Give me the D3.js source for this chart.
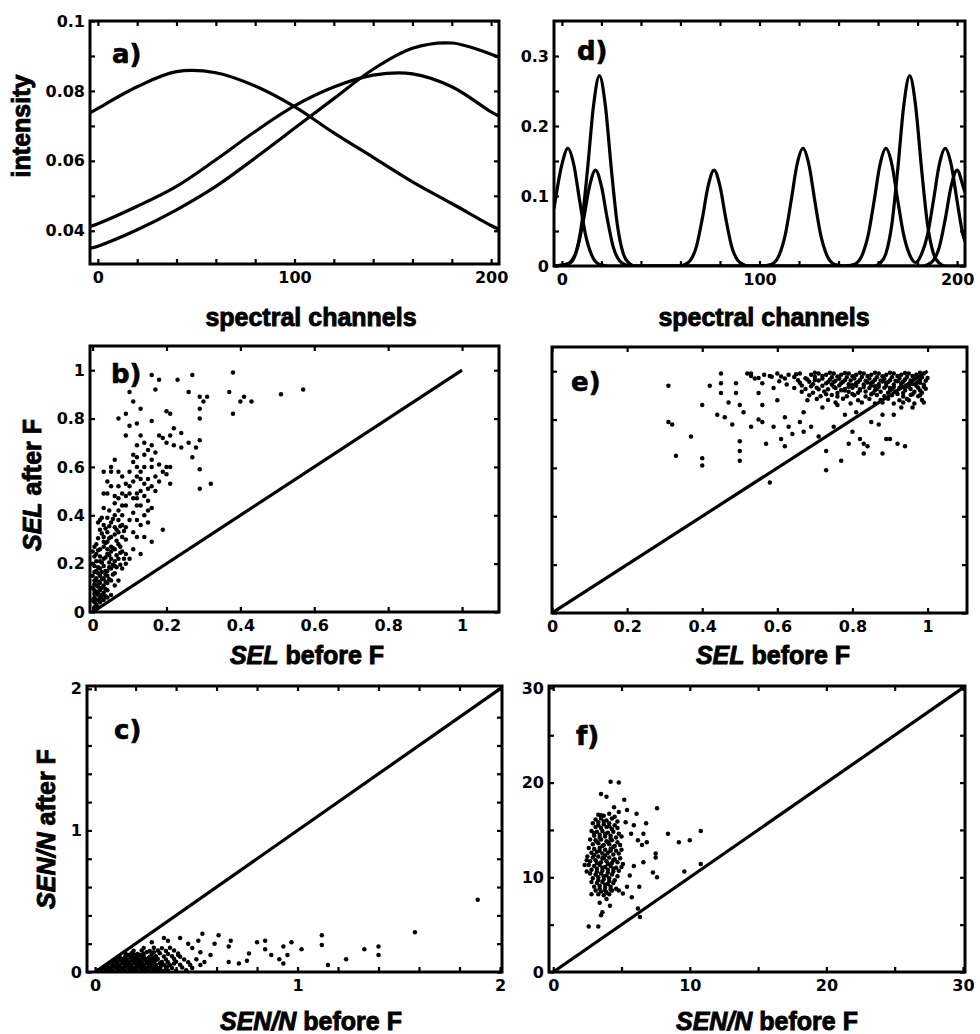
<!DOCTYPE html>
<html><head><meta charset="utf-8">
<script src="https://cdn.jsdelivr.net/npm/d3@7"></script>
<style>
html,body{margin:0;padding:0;background:#fff;}
svg{display:block;}
text{font-weight:bold;fill:#000;}
</style></head><body>
<svg id="fig" width="980" height="1034"></svg>
<script>
// ---------- tick values and labels ----------
const channelTicks = [0,20,40,60,80,100,120,140,160,180,200];
const channelLabels = [0,100,200];
const intensityTicks = [0.04,0.05,0.06,0.07,0.08,0.09,0.1];
const intensityLabels = [0.04,0.06,0.08,0.1];
const peakTicks = [0,0.05,0.1,0.15,0.2,0.25,0.3];
const peakLabels = [0,0.1,0.2,0.3];
const selTicks = [0,0.2,0.4,0.6,0.8,1];
const selLabels = [0,0.2,0.4,0.6,0.8,1];
const senTicksC = [0,0.2,0.4,0.6,0.8,1,1.2,1.4,1.6,1.8,2];
const senLabelsC = [0,1,2];
const senTicksF = [0,5,10,15,20,25,30];
const senLabelsF = [0,10,20,30];

// ---------- a) broad pure spectra ----------
const channelsBroad = [-4,0,20,40,60,80,100,120,140,160,180,200,204];
const broadSpectrum1 = [0.0737,0.0750,0.0812,0.0855,0.0852,0.0814,0.0755,0.0680,0.0610,0.0540,0.0478,0.0415,0.0404];
const broadSpectrum2 = [0.0412,0.0420,0.0470,0.0527,0.0603,0.0684,0.0757,0.0811,0.0845,0.0849,0.0812,0.0740,0.0728];
const broadSpectrum3 = [0.0350,0.0356,0.0403,0.0460,0.0527,0.0608,0.0693,0.0778,0.0862,0.0922,0.0937,0.0905,0.0896];

// ---------- d) narrow pure spectra [channel, intensity] ----------
const narrowSpectrum1 = [[-4,0.082],[0,0.145],[3,0.168],[6,0.145],[9,0.093],[12,0.044],[15,0.016],[18,0.004],[21,0.001],[24,0],
 [101,0],[104,0.001],[107,0.004],[110,0.016],[113,0.044],[116,0.093],[119,0.145],[122,0.168],[125,0.145],[128,0.093],[131,0.044],[134,0.016],[137,0.004],[140,0.001],[143,0],
 [146,0.001],[149,0.004],[152,0.016],[155,0.044],[158,0.093],[161,0.145],[164,0.168],[167,0.145],[170,0.093],[173,0.044],[176,0.016],[179,0.005],
 [182,0.017],[185,0.044],[188,0.093],[191,0.145],[194,0.168],[197,0.145],[200,0.093],[203,0.044],[204,0.035]];
const narrowSpectrum2 = [[-4,0],[2,0.002],[5,0.008],[8,0.027],[11,0.067],[14,0.114],[17,0.137],[20,0.114],[23,0.067],[26,0.027],[29,0.008],[32,0.002],[35,0],
 [59,0],[62,0.002],[65,0.008],[68,0.027],[71,0.067],[74,0.114],[77,0.137],[80,0.114],[83,0.067],[86,0.027],[89,0.008],[92,0.002],[95,0],
 [182,0],[185,0.002],[188,0.008],[191,0.027],[194,0.067],[197,0.114],[200,0.137],[203,0.114],[204,0.105]];
const narrowSpectrum3 = [[-4,0],[4,0.004],[7,0.018],[10,0.06],[13,0.139],[16,0.229],[19,0.272],[22,0.229],[25,0.139],[28,0.06],[31,0.018],[34,0.004],[37,0],
 [158,0],[161,0.004],[164,0.018],[167,0.06],[170,0.139],[173,0.229],[176,0.272],[179,0.229],[182,0.139],[185,0.06],[188,0.018],[191,0.004],[194,0],[204,0]];

// ---------- b) selectivity, broad spectra [before, after] ----------
const selPointsB = [
[0.16,0.98],[0.18,0.96],[0.17,0.92],[0.23,0.96],[0.27,0.98],[0.38,0.99],[0.26,0.91],[0.29,0.89],[0.31,0.89],[0.30,0.87],[0.37,0.91],[0.40,0.87],[0.41,0.89],[0.43,0.87],[0.51,0.90],[0.57,0.92],[0.38,0.82],[0.29,0.80],[0.29,0.84],[0.10,0.91],[0.11,0.87],[0.13,0.84],[0.07,0.80],[0.09,0.82],[0.12,0.78],[0.16,0.79],[0.20,0.83],[0.21,0.82],[0.22,0.76],[0.24,0.74],[0.18,0.73],[0.19,0.72],[0.21,0.73],[0.20,0.70],[0.22,0.69],[0.24,0.68],[0.26,0.70],[0.28,0.68],[0.29,0.71],[0.27,0.64],[0.29,0.59],[0.29,0.51],[0.32,0.53],[0.19,0.34],[0.16,0.29],[0.13,0.24],[0.11,0.26],[0.10,0.22],[0.14,0.31],[0.15,0.37],[0.16,0.63],[0.16,0.60],[0.17,0.56],[0.20,0.60],[0.20,0.57],[0.21,0.60],[0.21,0.53],[0.14,0.60],[0.13,0.55],[0.15,0.51],[0.15,0.46],[0.13,0.44],[0.16,0.43],[0.12,0.49],[0.12,0.56],[0.11,0.65],[0.12,0.69],[0.13,0.73],[0.14,0.70],[0.09,0.73],[0.10,0.77],[0.16,0.69],[0.17,0.66],[0.06,0.63],[0.05,0.60],[0.05,0.58],[0.07,0.58],[0.08,0.56],[0.09,0.53],[0.08,0.49],[0.07,0.47],[0.09,0.44],[0.11,0.41],[0.12,0.38],[0.12,0.44],[0.03,0.58],[0.03,0.49],[0.04,0.49],[0.06,0.45],[0.07,0.42],[0.09,0.48],[0.10,0.49],[0.11,0.47],
[0.11,0.62],[0.12,0.64],[0.12,0.60],[0.13,0.58],[0.14,0.65],[0.15,0.67],[0.14,0.53],[0.15,0.55],[0.16,0.52],[0.17,0.50],[0.13,0.50],[0.11,0.54],[0.10,0.58],[0.10,0.52],[0.12,0.47],[0.14,0.48],[0.15,0.42],[0.14,0.40],[0.13,0.36],[0.11,0.33],[0.12,0.31],[0.09,0.35],[0.10,0.38],[0.08,0.40],[0.18,0.61],[0.19,0.58],[0.18,0.54],
[0.02,0.38],[0.03,0.36],[0.04,0.39],[0.05,0.37],[0.06,0.35],[0.07,0.38],[0.04,0.33],[0.05,0.31],[0.06,0.32],[0.07,0.33],[0.08,0.31],[0.03,0.31],[0.02,0.34],[0.06,0.40],[0.09,0.30],[0.08,0.36],
[0.01,0.28],[0.02,0.26],[0.03,0.27],[0.04,0.29],[0.05,0.27],[0.06,0.26],[0.07,0.28],[0.02,0.23],[0.03,0.22],[0.04,0.24],[0.05,0.22],[0.06,0.21],[0.03,0.29],[0.01,0.24],[0.02,0.21],[0.04,0.26],[0.08,0.25],[0.07,0.22],[0.05,0.25],[0.01,0.21],
[0.005,0.19],[0.01,0.17],[0.02,0.18],[0.03,0.19],[0.04,0.17],[0.05,0.18],[0.01,0.14],[0.02,0.15],[0.03,0.14],[0.04,0.15],[0.05,0.13],[0.02,0.12],[0.03,0.11],[0.01,0.11],[0.04,0.12],[0.06,0.16],[0.06,0.19],[0.015,0.16],[0.025,0.165],[0.035,0.17],[0.005,0.13],[0.015,0.125],
[0.005,0.09],[0.01,0.08],[0.02,0.09],[0.03,0.08],[0.005,0.06],[0.01,0.05],[0.02,0.06],[0.01,0.03],[0.005,0.02],[0.02,0.04],[0.03,0.05],[0.015,0.07],[0.025,0.07],[0.04,0.09],[0.005,0.04],[0.015,0.02],[0.04,0.06],[0.025,0.10],
[0,0.15],[0,0.2],[0,0.1],[0,0.05],[0,0.25],[0.07,0.13],[0.08,0.18],[0.09,0.20],[0.06,0.11],[0.05,0.07],[0.09,0.24],[0.02,0.05],
[0.015,0.37],[0.035,0.345],[0.055,0.385],[0.075,0.355],[0.025,0.325],[0.045,0.305],[0.065,0.295],[0.085,0.335],[0.015,0.305],[0.035,0.285],[0.055,0.265],[0.075,0.245],[0.015,0.255],[0.045,0.235],[0.065,0.235],[0.025,0.205],[0.045,0.205],[0.035,0.225],[0.055,0.195],[0.015,0.185],[0.035,0.155],[0.045,0.185],[0.025,0.135],[0.045,0.135],[0.015,0.105],[0.035,0.095],[0.035,0.125],[0.005,0.115],[0.015,0.085],[0.025,0.055],[0.005,0.075],[0.035,0.065],[0.005,0.165],[0.005,0.23],[0.005,0.27],[0.055,0.155],[0.065,0.185],[0.075,0.195],[0.085,0.22],[0.075,0.27],[0.065,0.34],[0.045,0.355],[0.025,0.39],[0.045,0.42],[0.03,0.43],[0.06,0.48],[0.05,0.52],[0.07,0.52],[0.04,0.54],[0.08,0.44]
];

// ---------- e) selectivity, narrow spectra ----------
const selPointsE = [
[0.31,0.94],[0.31,0.79],[0.32,0.78],[0.33,0.65],[0.37,0.73],[0.40,0.86],[0.40,0.64],[0.40,0.61],[0.42,0.94],[0.45,0.91],[0.45,0.99],[0.45,0.95],[0.47,0.87],[0.49,0.95],[0.49,0.91],[0.50,0.86],[0.51,0.83],[0.48,0.78],[0.44,0.82],[0.46,0.81],[0.50,0.71],[0.50,0.67],[0.50,0.63],[0.53,0.77],[0.55,0.80],[0.56,0.79],[0.57,0.70],[0.58,0.54],[0.59,0.77],[0.56,0.86],[0.55,0.91],[0.53,0.98],[0.52,0.99],[0.54,0.97],[0.56,0.95],[0.58,0.98],[0.59,0.93],[0.60,0.88],[0.62,0.81],[0.61,0.72],[0.62,0.69],[0.63,0.77],[0.64,0.74],[0.66,0.79],[0.67,0.75],[0.69,0.77],[0.71,0.73],[0.73,0.67],[0.73,0.59],[0.77,0.63],[0.79,0.70],[0.82,0.72],[0.83,0.70],[0.84,0.69],[0.83,0.66],[0.88,0.66],[0.89,0.72],[0.90,0.72],[0.92,0.70],[0.94,0.69],[0.80,0.75],[0.87,0.78],[0.85,0.79],[0.88,0.82],[0.91,0.82],[0.93,0.85],[0.96,0.85],[0.99,0.87],[0.98,0.90],[0.95,0.88],[0.75,0.77],[0.67,0.83],[0.68,0.88],[0.72,0.85],[0.76,0.86],[0.78,0.82],[0.81,0.83],
[0.53,0.99],[0.565,0.985],[0.60,0.99],[0.63,0.985],[0.66,0.99],[0.69,0.985],[0.71,0.99],[0.73,0.985],[0.75,0.99],[0.77,0.985],[0.79,0.99],[0.81,0.985],[0.83,0.99],[0.85,0.985],[0.87,0.99],[0.89,0.985],[0.91,0.99],[0.93,0.985],[0.95,0.99],[0.97,0.985],[0.99,0.99],
[0.55,0.972],[0.585,0.977],[0.62,0.970],[0.645,0.976],[0.675,0.971],[0.70,0.976],[0.72,0.970],[0.745,0.975],[0.765,0.969],[0.785,0.975],[0.805,0.970],[0.825,0.976],[0.845,0.970],[0.865,0.975],[0.885,0.969],[0.905,0.975],[0.925,0.970],[0.945,0.976],[0.965,0.970],[0.985,0.975],[1.0,0.972],
[0.605,0.958],[0.655,0.962],[0.685,0.956],[0.71,0.961],[0.735,0.955],[0.755,0.960],[0.775,0.956],[0.795,0.961],[0.815,0.955],[0.835,0.960],[0.855,0.956],[0.875,0.961],[0.895,0.955],[0.915,0.960],[0.935,0.956],[0.955,0.961],[0.975,0.955],[0.995,0.960],
[0.625,0.945],[0.665,0.941],[0.695,0.946],[0.72,0.940],[0.745,0.945],[0.765,0.941],[0.79,0.946],[0.81,0.940],[0.83,0.945],[0.85,0.941],[0.87,0.946],[0.89,0.940],[0.91,0.945],[0.93,0.941],[0.95,0.946],[0.97,0.940],[0.99,0.944],
[0.645,0.930],[0.675,0.926],[0.705,0.931],[0.735,0.925],[0.755,0.930],[0.78,0.926],[0.80,0.931],[0.82,0.925],[0.845,0.930],[0.865,0.926],[0.885,0.931],[0.905,0.925],[0.925,0.930],[0.955,0.926],[0.975,0.931],[0.995,0.927],
[0.665,0.915],[0.695,0.911],[0.725,0.916],[0.76,0.910],[0.79,0.915],[0.815,0.911],[0.835,0.916],[0.855,0.910],[0.875,0.915],[0.895,0.911],[0.915,0.916],[0.935,0.910],[0.965,0.915],[0.985,0.911],
[0.685,0.900],[0.715,0.896],[0.745,0.901],[0.785,0.896],[0.805,0.900],[0.835,0.895],[0.865,0.901],[0.885,0.896],[0.905,0.900],[0.935,0.895],[0.955,0.901],[0.975,0.896],
[0.705,0.885],[0.735,0.881],[0.775,0.886],[0.815,0.880],[0.845,0.885],[0.875,0.881],[0.895,0.886],[0.925,0.880],[0.945,0.885],[0.985,0.881],
[0.755,0.870],[0.795,0.866],[0.825,0.871],[0.86,0.866],[0.88,0.870],[0.91,0.866],[0.935,0.871],[0.965,0.866],
[0.72,0.98],[0.74,0.965],[0.76,0.978],[0.78,0.962],[0.80,0.979],[0.82,0.964],[0.84,0.98],[0.86,0.965],[0.88,0.979],[0.90,0.963],[0.92,0.98],[0.94,0.966],[0.96,0.98],[0.98,0.965],
[0.73,0.95],[0.75,0.936],[0.77,0.95],[0.79,0.936],[0.81,0.951],[0.83,0.935],[0.85,0.95],[0.87,0.936],[0.89,0.951],[0.91,0.935],[0.93,0.95],[0.95,0.936],[0.97,0.95],[0.99,0.936],
[0.78,0.92],[0.82,0.92],[0.86,0.921],[0.90,0.92],[0.94,0.921],[0.98,0.92],[0.80,0.906],[0.85,0.905],[0.92,0.906],[0.96,0.905],
[0.70,0.993],[0.74,0.994],[0.78,0.992],[0.82,0.994],[0.86,0.993],[0.90,0.994],[0.94,0.992],[0.98,0.994],
[0.61,0.978],[0.65,0.987],[0.68,0.966],[0.66,0.952],[0.70,0.962],[0.69,0.938],[0.71,0.925],[0.73,0.905],[0.76,0.895],[0.77,0.921],
[0.88,0.957],[0.92,0.958],[0.96,0.947],[0.84,0.953],[0.80,0.943],[0.86,0.938],[0.90,0.93],[0.94,0.935],[0.98,0.952],[0.75,0.955]
];

// ---------- c) signal-to-noise, broad spectra ----------
const senPointsC = [
[1.89,0.51],[1.58,0.28],[1.40,0.18],[1.40,0.12],[1.33,0.16],[1.24,0.09],[1.15,0.05],[1.12,0.26],[1.12,0.19],[1.02,0.16],[0.97,0.21],[0.93,0.18],[0.95,0.12],[0.93,0.06],[0.91,0.09],[0.87,0.12],[0.84,0.22],[0.84,0.16],[0.80,0.21],[0.76,0.13],[0.75,0.08],[0.71,0.06],[0.66,0.07],[0.67,0.22],[0.66,0.18],[0.61,0.26],[0.59,0.20],[0.57,0.12],[0.53,0.27],[0.51,0.22],[0.48,0.17],[0.52,0.14],[0.54,0.07],[0.46,0.20],[0.42,0.24],[0.41,0.12],[0.39,0.06],[0.36,0.22],[0.34,0.24],[0.28,0.21],
[0.03,0.01],[0.06,0.012],[0.09,0.008],[0.12,0.011],[0.15,0.009],[0.18,0.012],[0.21,0.008],[0.24,0.011],[0.27,0.009],[0.30,0.012],[0.33,0.008],[0.36,0.011],[0.40,0.009],[0.45,0.012],
[0.04,0.03],[0.07,0.028],[0.10,0.032],[0.13,0.029],[0.16,0.031],[0.19,0.028],[0.22,0.032],[0.25,0.029],[0.28,0.031],[0.31,0.028],[0.35,0.032],[0.38,0.029],[0.43,0.031],[0.48,0.028],
[0.06,0.05],[0.09,0.052],[0.12,0.048],[0.15,0.051],[0.18,0.049],[0.21,0.052],[0.24,0.048],[0.27,0.051],[0.30,0.049],[0.34,0.052],[0.37,0.048],[0.42,0.051],[0.47,0.049],[0.52,0.05],
[0.08,0.07],[0.11,0.068],[0.14,0.072],[0.17,0.069],[0.20,0.071],[0.23,0.068],[0.26,0.072],[0.29,0.069],[0.33,0.071],[0.36,0.068],[0.40,0.072],[0.46,0.069],
[0.10,0.09],[0.13,0.092],[0.16,0.088],[0.19,0.091],[0.22,0.089],[0.25,0.092],[0.28,0.088],[0.31,0.091],[0.35,0.089],[0.39,0.092],[0.44,0.088],[0.50,0.09],
[0.12,0.11],[0.15,0.108],[0.18,0.112],[0.21,0.109],[0.24,0.111],[0.27,0.108],[0.30,0.112],[0.34,0.109],[0.38,0.111],[0.42,0.108],
[0.15,0.13],[0.18,0.132],[0.21,0.128],[0.24,0.131],[0.28,0.129],[0.32,0.132],[0.36,0.128],[0.41,0.13],
[0.19,0.15],[0.23,0.152],[0.27,0.148],[0.31,0.151],[0.35,0.149],[0.39,0.152],
[0.24,0.17],[0.29,0.172],[0.33,0.168],[0.37,0.171],
[0.05,0.021],[0.08,0.019],[0.11,0.022],[0.14,0.018],[0.17,0.021],[0.20,0.019],[0.23,0.022],[0.26,0.018],[0.29,0.021],[0.32,0.019],[0.35,0.022],
[0.052,0.04],[0.085,0.042],[0.115,0.038],[0.145,0.041],[0.175,0.039],[0.205,0.042],[0.235,0.038],[0.265,0.041],[0.295,0.039],[0.325,0.042],[0.355,0.038],
[0.075,0.061],[0.105,0.058],[0.135,0.062],[0.165,0.059],[0.195,0.061],[0.225,0.058],[0.255,0.062],[0.285,0.059],[0.32,0.061],
[0.095,0.079],[0.125,0.082],[0.155,0.078],[0.185,0.081],[0.215,0.079],[0.245,0.082],[0.275,0.078],[0.30,0.081],
[0.115,0.101],[0.145,0.098],[0.175,0.102],[0.205,0.099],[0.235,0.101],[0.265,0.098],[0.29,0.102],
[0.02,0.006],[0.015,0.012],[0.165,0.12],[0.195,0.121],[0.225,0.119],[0.255,0.14],[0.29,0.139]
];

// ---------- f) signal-to-noise, narrow spectra ----------
const senPointsF = [
[2.6,4.8],[3.3,4.8],[3.5,6.0],[3.6,6.3],[4.2,20.1],[4.8,20.0],[3.5,18.8],[3.9,18.5],[5.2,18.2],[4.45,17.4],[4.8,16.9],[5.4,17.1],[6.1,16.7],[7.6,17.3],[5.3,15.8],[5.9,15.5],[6.8,15.7],[5.7,14.6],[6.6,14.6],[6.85,13.7],[6.5,13.4],[6.2,13.9],[8.4,14.6],[9.2,13.7],[10.0,13.9],[10.8,14.9],[7.5,12.5],[7.5,12.1],[6.6,11.6],[7.3,10.5],[7.6,10.0],[9.6,10.6],[10.8,11.4],[6.3,9.0],[5.75,7.9],[6.2,6.7],[6.35,5.8],[5.9,11.2],[5.6,10.2],[5.4,9.0],[4.8,8.6],[5.1,8.3],[3.9,7.7],[4.15,7.0],[3.4,7.3],[2.8,8.2],[3.8,8.6],[2.45,11.8],[2.45,10.6],[2.3,11.3],
[3.3,16.6],[3.7,16.5],[4.1,16.7],[4.5,16.4],[3.1,16.1],[3.5,16.2],[3.9,16.0],[4.3,16.2],[4.7,15.9],
[2.9,15.7],[3.3,15.8],[3.7,15.6],[4.1,15.7],[4.5,15.5],[3.1,15.3],[3.5,15.2],[3.9,15.3],[4.3,15.1],[4.7,15.2],
[2.8,14.9],[3.2,14.8],[3.6,14.9],[4.0,14.7],[4.4,14.8],[4.8,14.6],[3.0,14.4],[3.4,14.5],[3.8,14.3],[4.2,14.4],[4.6,14.2],[5.0,14.3],
[2.7,14.0],[3.1,13.9],[3.5,14.0],[3.9,13.8],[4.3,13.9],[4.7,13.7],[2.9,13.5],[3.3,13.6],[3.7,13.4],[4.1,13.5],[4.5,13.3],[4.9,13.4],
[2.6,13.1],[3.0,13.0],[3.4,13.1],[3.8,12.9],[4.2,13.0],[4.6,12.8],[5.0,12.9],[2.8,12.6],[3.2,12.7],[3.6,12.5],[4.0,12.6],[4.4,12.4],[4.8,12.5],
[2.5,12.2],[2.9,12.1],[3.3,12.2],[3.7,12.0],[4.1,12.1],[4.5,11.9],[4.9,12.0],[2.7,11.7],[3.1,11.8],[3.5,11.6],[3.9,11.7],[4.3,11.5],[4.7,11.6],[5.1,11.4],
[2.6,11.3],[3.0,11.2],[3.4,11.3],[3.8,11.1],[4.2,11.2],[4.6,11.0],[5.0,11.1],[2.8,10.8],[3.2,10.9],[3.6,10.7],[4.0,10.8],[4.4,10.6],[4.8,10.7],
[2.7,10.4],[3.1,10.3],[3.5,10.4],[3.9,10.2],[4.3,10.3],[4.7,10.1],[2.9,9.9],[3.3,10.0],[3.7,9.8],[4.1,9.9],[4.5,9.7],
[2.8,9.5],[3.2,9.4],[3.6,9.5],[4.0,9.3],[4.4,9.4],[3.0,9.0],[3.4,9.1],[3.8,8.9],[4.2,9.0],[4.6,8.8],
[3.1,8.6],[3.5,8.5],[3.9,8.4],[4.3,8.6],[3.3,8.2],[3.7,8.1],[4.1,8.2],
[3.5,16.55],[3.3,15.5],[3.7,15.9],[4.1,15.4],[3.0,14.65],[3.4,14.2],[3.8,14.6],[4.2,14.1],[3.2,13.75],[3.6,13.3],[4.0,13.7],[4.4,13.2],[3.0,12.35],[3.4,12.8],[3.8,12.3],[4.2,12.8],[3.2,11.5],[3.6,12.0],[4.0,11.4],[4.4,11.8],[3.2,10.6],[3.6,11.0],[4.0,10.5],[4.4,10.9],[3.3,9.7],[3.7,10.1],[4.1,9.6],[3.4,8.8],[3.8,9.2],[4.2,8.7]
];

// identity reference lines
const identitySel = [[0,0],[1,1]];
const identitySenC = [[0,0],[2,2]];
const identitySenF = [[0,0],[30,30]];

// ---------- drawing ----------
const svg = d3.select('#fig');
svg.append('rect').attr('width',980).attr('height',1034).attr('fill','#fff');
const tickFont = '"DejaVu Sans", sans-serif';
const titleFont = '"Liberation Sans", Arial, sans-serif';

function makePanel(p) {
  const x = d3.scaleLinear().domain(p.xDomain).range([p.left, p.right]);
  const y = d3.scaleLinear().domain(p.yDomain).range([p.bottom, p.top]);
  const g = svg.append('g');
  const clipId = 'clip-' + p.id;
  g.append('clipPath').attr('id', clipId).append('rect')
    .attr('x', p.left).attr('y', p.top).attr('width', p.right - p.left).attr('height', p.bottom - p.top);
  const body = g.append('g').attr('clip-path', `url(#${clipId})`);

  const fmt = labels => d => labels.includes(d) ? String(d) : '';
  const style = sel => {
    sel.select('.domain').remove();
    sel.attr('font-family', tickFont).attr('font-size', 16).attr('font-weight', 'bold');
    sel.selectAll('line').attr('stroke-width', 2.2);
  };
  g.append('g').attr('transform', `translate(0,${p.bottom})`)
    .call(d3.axisBottom(x).tickValues(p.xTicks).tickSize(-5).tickPadding(8).tickFormat(fmt(p.xLabels))).call(style);
  g.append('g').attr('transform', `translate(0,${p.top})`)
    .call(d3.axisTop(x).tickValues(p.xTicks).tickSize(-5).tickFormat('')).call(style);
  g.append('g').attr('transform', `translate(${p.left},0)`)
    .call(d3.axisLeft(y).tickValues(p.yTicks).tickSize(-5).tickPadding(5).tickFormat(fmt(p.yLabels))).call(style);
  g.append('g').attr('transform', `translate(${p.right},0)`)
    .call(d3.axisRight(y).tickValues(p.yTicks).tickSize(-5).tickFormat('')).call(style);

  p.draw(body, x, y);

  g.append('rect').attr('x', p.left).attr('y', p.top)
    .attr('width', p.right - p.left).attr('height', p.bottom - p.top)
    .attr('fill', 'none').attr('stroke', '#000').attr('stroke-width', 3);

  g.append('text').attr('x', p.tagX).attr('y', p.tagY).attr('font-family', tickFont).attr('font-size', 26)
    .attr('stroke', '#000').attr('stroke-width', 0.6).text(p.tag);
  return {x, y, g};
}

const lineXY = (x, y, curve) => d3.line().x(d => x(d[0])).y(d => y(d[1])).curve(curve);
const curveStyle = sel => sel.attr('fill', 'none').attr('stroke', '#000').attr('stroke-width', 3.2).attr('stroke-linejoin', 'round');
const dots = (body, pts, x, y) => body.append('g').selectAll('circle').data(pts).join('circle')
  .attr('cx', d => x(d[0])).attr('cy', d => y(d[1])).attr('r', 2.25).attr('fill', '#000');
const identity = (body, pts, x, y) => body.append('path').datum(pts)
  .attr('d', d3.line().x(d => x(d[0])).y(d => y(d[1])))
  .attr('fill', 'none').attr('stroke', '#000').attr('stroke-width', 3.2);

// a)
makePanel({id:'a', left:90, right:499, top:21, bottom:264, xDomain:[-4,204], yDomain:[0.0305,0.1],
  xTicks:channelTicks, xLabels:channelLabels, yTicks:intensityTicks, yLabels:intensityLabels,
  tag:'a)', tagX:112, tagY:63,
  draw:(body, x, y) => {
    [broadSpectrum1, broadSpectrum2, broadSpectrum3].forEach(s => {
      body.append('path').datum(channelsBroad.map((c, i) => [c, s[i]]))
        .attr('d', lineXY(x, y, d3.curveCatmullRom.alpha(0.5))).call(curveStyle);
    });
  }});

// d)
makePanel({id:'d', left:554, right:965, top:21, bottom:266, xDomain:[-4,204], yDomain:[0,0.35],
  xTicks:channelTicks, xLabels:channelLabels, yTicks:peakTicks, yLabels:peakLabels,
  tag:'d)', tagX:577, tagY:60,
  draw:(body, x, y) => {
    [narrowSpectrum1, narrowSpectrum2, narrowSpectrum3].forEach(s => {
      body.append('path').datum(s).attr('d', lineXY(x, y, d3.curveMonotoneX)).call(curveStyle);
    });
  }});

// b)
makePanel({id:'b', left:90, right:499, top:346, bottom:612, xDomain:[-0.007,1.1], yDomain:[0,1.1],
  xTicks:selTicks, xLabels:selLabels, yTicks:selTicks, yLabels:selLabels,
  tag:'b)', tagX:111, tagY:383,
  draw:(body, x, y) => { identity(body, identitySel, x, y); dots(body, selPointsB, x, y); }});

// e)
makePanel({id:'e', left:552, right:967, top:347, bottom:613, xDomain:[0,1.105], yDomain:[0,1.1],
  xTicks:selTicks, xLabels:selLabels, yTicks:selTicks, yLabels:[],
  tag:'e)', tagX:571, tagY:391,
  draw:(body, x, y) => { identity(body, identitySel, x, y); dots(body, selPointsE, x, y); }});

// c)
makePanel({id:'c', left:87, right:502, top:686, bottom:972, xDomain:[-0.04,2.01], yDomain:[0,2.02],
  xTicks:senTicksC, xLabels:senLabelsC, yTicks:senTicksC, yLabels:senLabelsC,
  tag:'c)', tagX:114, tagY:739,
  draw:(body, x, y) => { identity(body, identitySenC, x, y); dots(body, senPointsC, x, y); }});

// f)
makePanel({id:'f', left:549, right:965, top:686, bottom:972, xDomain:[-0.31,30.15], yDomain:[0,30.2],
  xTicks:senTicksF, xLabels:senLabelsF, yTicks:senTicksF, yLabels:senLabelsF,
  tag:'f)', tagX:576, tagY:745,
  draw:(body, x, y) => { identity(body, identitySenF, x, y); dots(body, senPointsF, x, y); }});

// axis titles
const title = (x, y, rotate) => {
  const t = svg.append('text').attr('font-family', titleFont).attr('font-size', 25)
    .attr('font-weight', 'bold').attr('stroke', '#000').attr('stroke-width', 0.9)
    .attr('text-anchor', 'middle');
  if (rotate) t.attr('transform', `translate(${x},${y}) rotate(-90)`); else t.attr('x', x).attr('y', y);
  return t;
};
title(30, 126, true).text('intensity');
title(311, 326, false).text('spectral channels');
title(764, 326, false).text('spectral channels');

const mixed = (t, italic, rest) => {
  t.append('tspan').attr('font-style', 'italic').text(italic);
  t.append('tspan').text(rest);
};
mixed(title(41, 485, true), 'SEL', ' after F');
mixed(title(307, 664, false), 'SEL', ' before F');
mixed(title(773, 664, false), 'SEL', ' before F');
mixed(title(55, 829, true), 'SEN/N', ' after F');
mixed(title(311, 1030, false), 'SEN/N', ' before F');
mixed(title(767, 1030, false), 'SEN/N', ' before F');
</script>
</body></html>
